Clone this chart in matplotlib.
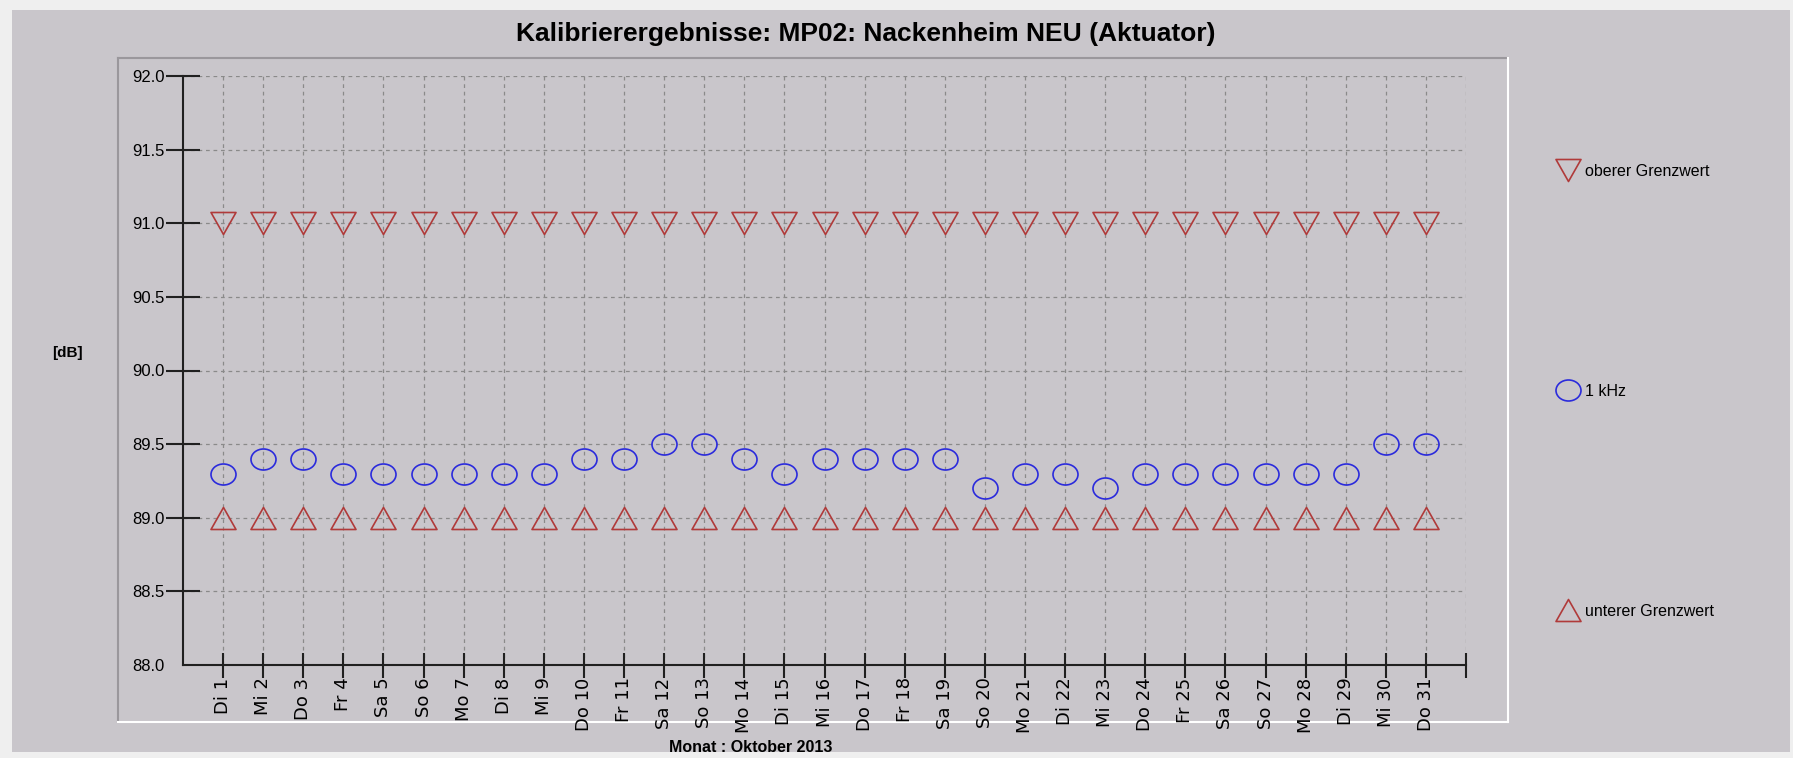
import numpy as np
import matplotlib
matplotlib.use("Agg")
import matplotlib.pyplot as plt
from matplotlib.path import Path
from matplotlib.patches import Rectangle
from matplotlib.lines import Line2D

plt.rcParams['font.family'] = ['Liberation Sans', 'DejaVu Sans']

# Tage im Oktober 2013
days = list(range(1, 32))
day_labels = ["Di 1", "Mi 2", "Do 3", "Fr 4", "Sa 5", "So 6", "Mo 7", "Di 8", "Mi 9",
              "Do 10", "Fr 11", "Sa 12", "So 13", "Mo 14", "Di 15", "Mi 16", "Do 17",
              "Fr 18", "Sa 19", "So 20", "Mo 21", "Di 22", "Mi 23", "Do 24", "Fr 25",
              "Sa 26", "So 27", "Mo 28", "Di 29", "Mi 30", "Do 31"]

# Messwerte [dB]
upper_limit = [91.0] * 31
lower_limit = [89.0] * 31
khz_1 = [89.3, 89.4, 89.4, 89.3, 89.3, 89.3, 89.3, 89.3, 89.3, 89.4, 89.4,
         89.5, 89.5, 89.4, 89.3, 89.4, 89.4, 89.4, 89.4, 89.2, 89.3, 89.3,
         89.2, 89.3, 89.3, 89.3, 89.3, 89.3, 89.3, 89.5, 89.5]

y_ticks = [88.0, 88.5, 89.0, 89.5, 90.0, 90.5, 91.0, 91.5, 92.0]

W, H = 1793, 758
panel_gray = '#c9c6cb'
red = '#b03a3a'
blue = '#2b2bdc'

# eigene Markerformen (etwas breiter als hoch)
h = 0.88
tri_down = Path([(-0.5, h / 2), (0.5, h / 2), (0, -h / 2), (-0.5, h / 2)],
                [Path.MOVETO, Path.LINETO, Path.LINETO, Path.CLOSEPOLY])
tri_up = Path([(-0.5, -h / 2), (0.5, -h / 2), (0, h / 2), (-0.5, -h / 2)],
              [Path.MOVETO, Path.LINETO, Path.LINETO, Path.CLOSEPOLY])
circ = Path.unit_circle()
ellipse = Path(circ.vertices * np.array([1.0, 0.84]), circ.codes)

fig = plt.figure(figsize=(W / 100, H / 100), dpi=100)
fig.patch.set_facecolor('#efefef')

def px(x, y):
    # Pixel (von oben links) -> Figurkoordinaten
    return x / W, 1 - y / H

# grauer Hintergrund
fig.add_artist(Rectangle(px(12, 752), (1790 - 12) / W, (752 - 10) / H,
                         transform=fig.transFigure, facecolor=panel_gray,
                         edgecolor='none', zorder=-2))

# Rahmen um den Diagrammbereich (hinter den Achsen)
x0, y0, x1, y1 = 118, 58, 1508, 722
for (xa, ya), (xb, yb), c in [((x0, y0), (x1, y0), '#9a979c'),
                              ((x0, y0), (x0, y1), '#9a979c'),
                              ((x1, y0), (x1, y1), 'white'),
                              ((x0, y1), (x1, y1), 'white')]:
    pa, pb = px(xa, ya), px(xb, yb)
    fig.add_artist(Line2D([pa[0], pb[0]], [pa[1], pb[1]], color=c, lw=1.5,
                          transform=fig.transFigure, zorder=-1))

ax = fig.add_axes([183 / W, 1 - 665 / H, (1466 - 183) / W, (665 - 76) / H])
ax.patch.set_visible(False)

mk = dict(linestyle='none', markersize=18, markerfacecolor='none',
          markeredgewidth=1.2)
ax.plot(days, upper_limit, marker=tri_down, markeredgecolor=red,
        label='oberer Grenzwert', **mk)
ax.plot(days, khz_1, marker=ellipse, markeredgecolor=blue, label='1 kHz', **mk)
ax.plot(days, lower_limit, marker=tri_up, markeredgecolor=red,
        label='unterer Grenzwert', **mk)

ax.set_xlim(0, 32)
ax.set_ylim(88, 92)
ax.set_xticks(days + [32])
ax.set_xticklabels(day_labels + [''], rotation=90, fontsize=13,
                   family=['DejaVu Sans'])
ax.set_yticks(y_ticks)
ax.set_yticklabels([f"{v:.1f}" for v in y_ticks], fontsize=12)

for s in ['top', 'right']:
    ax.spines[s].set_visible(False)
for s in ['left', 'bottom']:
    ax.spines[s].set_linewidth(1.5)
    ax.spines[s].set_color('#202020')

ax.tick_params(axis='y', direction='inout', length=24, width=1.5,
               color='#202020', pad=1)
ax.tick_params(axis='x', direction='inout', length=18, width=1.5,
               color='#202020', pad=0)
ax.yaxis.get_major_ticks()[0].tick1line.set_visible(False)

ax.grid(True, color='#8a8a8a', linestyle=(0, (3, 3)), linewidth=0.9)
ax.set_axisbelow(True)

# Legende rechts, Einträge weit auseinander
handles, labels = ax.get_legend_handles_labels()
for hd, lb, ypos in zip(handles, labels, [171, 391, 611]):
    fx, fy = px(1556, ypos)
    fig.legend([hd], [lb], loc='center left', bbox_to_anchor=(fx, fy),
               frameon=False, fontsize=11.5, handlelength=1.5,
               handletextpad=0.3, borderaxespad=0, borderpad=0)

# Texte
fig.text(*px(866, 34), "Kalibrierergebnisse: MP02: Nackenheim NEU (Aktuator)",
         ha='center', va='center', fontsize=19, fontweight='bold')
fig.text(*px(67, 353), "[dB]", ha='center', va='center', fontsize=11,
         fontweight='bold')
fig.text(*px(751, 748), "Monat : Oktober 2013", ha='center', va='center',
         fontsize=11.5, fontweight='bold')

fig.savefig("out.png", dpi=100, facecolor=fig.get_facecolor())
